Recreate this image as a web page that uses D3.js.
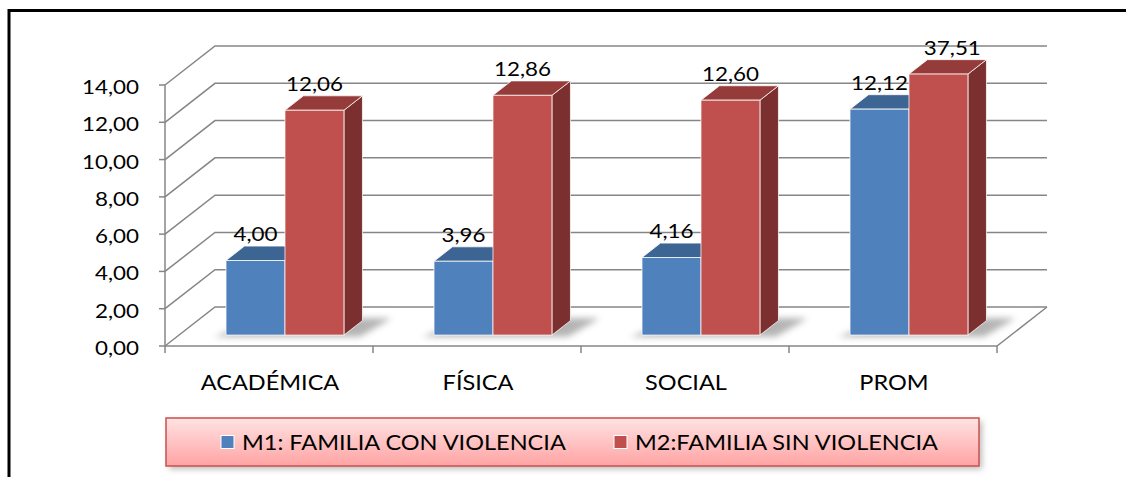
<!DOCTYPE html>
<html>
<head>
<meta charset="utf-8">
<script src="https://cdn.jsdelivr.net/npm/d3@7"></script>
<style>
  body { margin: 0; background: #fff; }
  text { font-family: Lato, "Open Sans", sans-serif; fill: #000; }
</style>
</head>
<body>
<div id="chart"></div>
<script>
var categories = ['ACADÉMICA', 'FÍSICA', 'SOCIAL', 'PROM'];
var m1Values = [4.00, 3.96, 4.16, 12.12];
var m2Values = [12.06, 12.86, 12.60, 37.51];
var seriesNames = ['M1: FAMILIA CON VIOLENCIA', 'M2:FAMILIA SIN VIOLENCIA'];
var yTicks = [0, 2, 4, 6, 8, 10, 12, 14];

var width = 1126, height = 477;
var DX = 50, DY = -39;          // depth offset of the back wall
var z0 = 0.28, z1 = 0.65;       // depth range of the bars
var stretch = 1.12;             // text is a bit wide in the original

var colors = {
  m1: { front: '#4f81bd', top: '#3d6593', side: '#3a5f8c' },
  m2: { front: '#c0504d', top: '#953b39', side: '#7b302f' }
};

var svg = d3.select('#chart').append('svg')
  .attr('width', width)
  .attr('height', height);

var defs = svg.append('defs');
defs.append('filter').attr('id', 'blur')
  .attr('x', '-20%').attr('y', '-50%').attr('width', '140%').attr('height', '200%')
  .append('feGaussianBlur').attr('stdDeviation', 3);

var lg = defs.append('linearGradient').attr('id', 'legendFill')
  .attr('x1', 0).attr('y1', 0).attr('x2', 0).attr('y2', 1);
lg.append('stop').attr('offset', '0%').attr('stop-color', '#ffe3e3');
lg.append('stop').attr('offset', '100%').attr('stop-color', '#ffa3a3');

var y = d3.scaleLinear().domain([0, 14]).range([346, 85]);
var x = d3.scaleBand().domain(categories).range([165, 997]).padding(0);
var xs = d3.scaleBand().domain(['m1', 'm2'])
  .range([0.226 * x.bandwidth(), 0.793 * x.bandwidth()]).padding(0);

function proj(px, v, z) {
  return [px + z * DX, y(v) + z * DY];
}
function poly(pts) {
  return 'M' + pts.map(function(p) { return p[0] + ',' + p[1]; }).join('L') + 'Z';
}
function label(g, px, py, str, anchor, size) {
  return g.append('text')
    .attr('transform', 'translate(' + px + ',' + py + ') scale(' + stretch + ',1)')
    .attr('text-anchor', anchor)
    .style('font-size', size + 'px')
    .text(str);
}
var fmt = function(v) { return d3.format('.2f')(v).replace('.', ','); };

// outer frame
svg.append('rect')
  .attr('x', 9).attr('y', 10.5)
  .attr('width', 1300).attr('height', 700)
  .attr('fill', 'none').attr('stroke', '#000').attr('stroke-width', 3);

// walls and gridlines
var xl = x.range()[0], xr = x.range()[1];
var grid = svg.append('g')
  .attr('fill', 'none').attr('stroke', '#868686').attr('stroke-width', 1.5);

grid.selectAll('path.gl').data(yTicks).enter().append('path')
  .attr('class', 'gl')
  .attr('d', function(t) {
    var a = proj(xl, t, 0), b = proj(xl, t, 1), c = proj(xr, t, 1);
    return 'M' + a + 'L' + b + 'L' + c;
  });

// floor front and right edges, value axis
grid.append('path').attr('d', 'M' + proj(xl, 0, 0) + 'L' + proj(xr, 0, 0) + 'L' + proj(xr, 0, 1));
grid.append('path').attr('d', 'M' + proj(xl, 0, 0) + 'L' + proj(xl, 14, 0));

// y ticks and labels
grid.selectAll('line.yt').data(yTicks).enter().append('line')
  .attr('class', 'yt')
  .attr('x1', xl - 6).attr('x2', xl)
  .attr('y1', function(t) { return y(t); })
  .attr('y2', function(t) { return y(t); });

var yl = svg.append('g');
yTicks.forEach(function(t) {
  label(yl, 139, y(t) + 9, fmt(t), 'end', 20);
});

// category ticks and labels
var ticksX = categories.map(function(c) { return x(c); }).concat([xr]);
grid.selectAll('line.xt').data(ticksX).enter().append('line')
  .attr('class', 'xt')
  .attr('x1', function(d) { return d; }).attr('x2', function(d) { return d; })
  .attr('y1', y(0)).attr('y2', y(0) + 7);

var xlab = svg.append('g');
categories.forEach(function(c) {
  label(xlab, x(c) + x.bandwidth() / 2 + 1, 390, c, 'middle', 21);
});

// bars
var rows = categories.map(function(c, i) {
  return { cat: c, m1: m1Values[i], m2: m2Values[i] };
});

var bars = svg.append('g');

// soft shadows on the floor
rows.forEach(function(r) {
  var a = x(r.cat) + xs('m1') - 4;
  var b = x(r.cat) + xs('m2') + xs.bandwidth() + 18;
  bars.append('path')
    .attr('d', poly([proj(a - 6, 0, z0 - 0.04), proj(b, 0, z0 - 0.04), proj(b + 8, 0, z1 + 0.06), proj(a + 20, 0, z1 + 0.06)]))
    .attr('fill', '#444')
    .attr('opacity', 0.4)
    .attr('filter', 'url(#blur)');
});

var labels = svg.append('g');
rows.forEach(function(r) {
  ['m1', 'm2'].forEach(function(k) {
    var v = r[k];
    var vc = Math.min(v, y.domain()[1]);
    var a = x(r.cat) + xs(k), b = a + xs.bandwidth();
    var col = colors[k];
    var g = bars.append('g')
      .attr('stroke', '#fff').attr('stroke-opacity', 0.75).attr('stroke-width', 1)
      .attr('stroke-linejoin', 'round');
    g.append('path').attr('fill', col.side)
      .attr('d', poly([proj(b, 0, z0), proj(b, 0, z1), proj(b, vc, z1), proj(b, vc, z0)]));
    g.append('path').attr('fill', col.top)
      .attr('d', poly([proj(a, vc, z0), proj(b, vc, z0), proj(b, vc, z1), proj(a, vc, z1)]));
    g.append('path').attr('fill', col.front)
      .attr('d', poly([proj(a, 0, z0), proj(b, 0, z0), proj(b, vc, z0), proj(a, vc, z0)]));

    var zl = v > vc ? z0 + 0.75 * (z1 - z0) : z0;
    var p = proj((a + b) / 2, vc, zl);
    var top = proj(a, vc, z1)[1];
    labels.append('g').call(function(sel) {
      label(sel, p[0], top - 5, fmt(v), 'middle', 20);
    });
  });
});

// legend
var leg = svg.append('g');
leg.append('rect')
  .attr('x', 169).attr('y', 421).attr('width', 813).attr('height', 48)
  .attr('fill', '#777').attr('opacity', 0.5).attr('filter', 'url(#blur)');
leg.append('rect')
  .attr('x', 166).attr('y', 418).attr('width', 813).attr('height', 48)
  .attr('fill', 'url(#legendFill)')
  .attr('stroke', '#c9504e').attr('stroke-width', 1.5);

var legX = [221, 614];
['m1', 'm2'].forEach(function(k, i) {
  leg.append('rect')
    .attr('x', legX[i]).attr('y', 435.5).attr('width', 13).attr('height', 13)
    .attr('fill', colors[k].front)
    .attr('stroke', '#fff').attr('stroke-width', 1);
  label(leg, legX[i] + 21, 450, seriesNames[i], 'start', 21);
});
</script>
</body>
</html>
